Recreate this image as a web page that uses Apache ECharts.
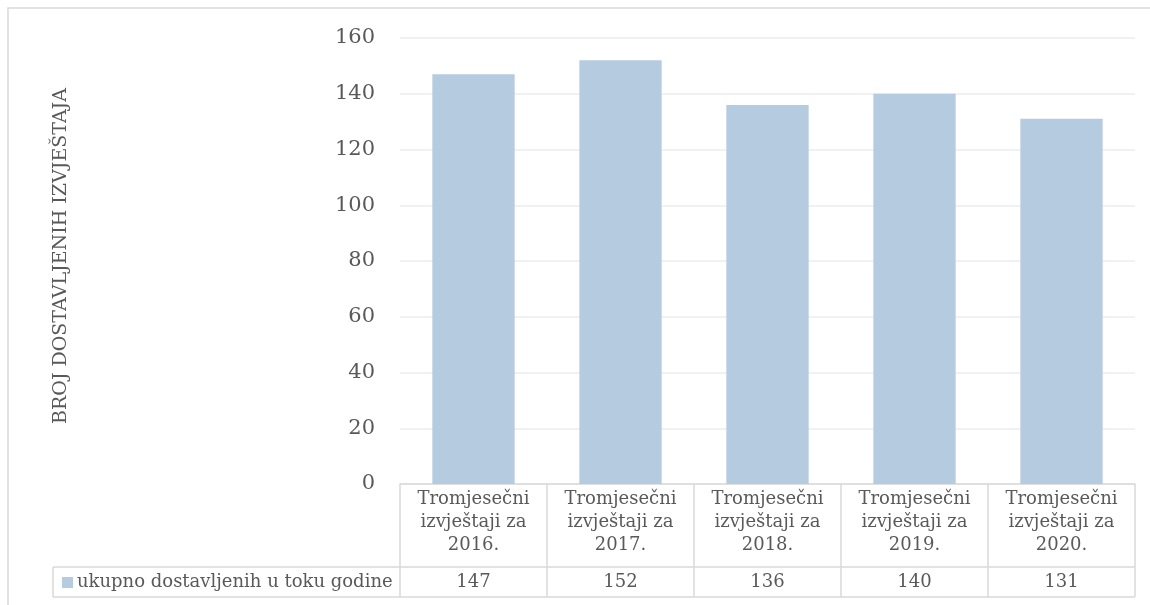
<!DOCTYPE html>
<html>
<head>
<meta charset="utf-8">
<script src="https://cdn.jsdelivr.net/npm/echarts@6/dist/echarts.min.js"></script>
<style>
  html, body { margin: 0; padding: 0; background: #fff; }
  #main { width: 1150px; height: 605px; }
</style>
</head>
<body>
<div id="main"></div>
<script>
  // podaci
  const categories = ['Tromjesečni izvještaji za 2016.', 'Tromjesečni izvještaji za 2017.', 'Tromjesečni izvještaji za 2018.', 'Tromjesečni izvještaji za 2019.', 'Tromjesečni izvještaji za 2020.'];
  const seriesName = 'ukupno dostavljenih u toku godine';
  const values = [147, 152, 136, 140, 131];
  const yTicks = [0, 20, 40, 60, 80, 100, 120, 140, 160];
  const yTitle = 'BROJ DOSTAVLJENIH IZVJEŠTAJA';

  const font = 'DejaVu Serif';
  const txt = '#595959';
  const line = '#d9d9d9';
  const barColor = '#b4cbe0';

  let myChart = echarts.init(document.getElementById('main'));
  myChart.setOption({
    animation: false,
    textStyle: { fontFamily: font },
    grid: { left: 400, right: 15, top: 38, bottom: 121 },
    xAxis: {
      type: 'category',
      data: categories,
      axisLine: { show: true, lineStyle: { color: line, width: 1.5 } },
      axisTick: { show: false },
      axisLabel: {
        color: txt, fontSize: 18, fontFamily: font, lineHeight: 23, margin: 4,
        formatter: function (v) { return v.replace(' izvještaji za ', '\nizvještaji za\n'); }
      }
    },
    yAxis: {
      type: 'value',
      min: yTicks[0], max: yTicks[yTicks.length - 1], interval: 20,
      axisLine: { show: false },
      axisTick: { show: false },
      axisLabel: { color: txt, fontSize: 21, fontFamily: font, margin: 25 },
      splitLine: { lineStyle: { color: '#ececec', width: 1.5 } }
    },
    series: [{
      name: seriesName,
      type: 'bar',
      data: values,
      barWidth: '56%',
      itemStyle: { color: barColor }
    }]
  });

  // tabela podataka ispod grafikona
  const tblTop = 484, tblMid = 567, tblBot = 597, tblLeft = 53;
  const x0 = myChart.convertToPixel({ xAxisIndex: 0 }, 0);
  const x1 = myChart.convertToPixel({ xAxisIndex: 0 }, 1);
  const band = x1 - x0;
  const els = [];
  // okvir
  els.push({ type: 'rect', shape: { x: 8, y: 8, width: 1160, height: 700 }, style: { fill: 'none', stroke: line, lineWidth: 1.5 }, silent: true });
  for (let i = 0; i <= categories.length; i++) {
    const x = x0 - band / 2 + i * band;
    els.push({ type: 'line', shape: { x1: x, y1: tblTop, x2: x, y2: tblBot }, style: { stroke: line, lineWidth: 1.5 } });
  }
  const tblRight = x0 - band / 2 + categories.length * band;
  els.push({ type: 'line', shape: { x1: tblLeft, y1: tblMid, x2: tblRight, y2: tblMid }, style: { stroke: line, lineWidth: 1.5 } });
  els.push({ type: 'line', shape: { x1: tblLeft, y1: tblBot, x2: tblRight, y2: tblBot }, style: { stroke: line, lineWidth: 1.5 } });
  els.push({ type: 'line', shape: { x1: tblLeft, y1: tblMid, x2: tblLeft, y2: tblBot }, style: { stroke: line, lineWidth: 1.5 } });
  els.push({ type: 'rect', shape: { x: 62, y: 577, width: 11, height: 11 }, style: { fill: barColor } });
  els.push({ type: 'text', x: 77, y: 582, style: { text: seriesName, font: '18px "' + font + '"', fill: txt, textVerticalAlign: 'middle' } });
  values.forEach(function (v, i) {
    els.push({ type: 'text', x: myChart.convertToPixel({ xAxisIndex: 0 }, i), y: 582,
      style: { text: String(v), font: '18px "' + font + '"', fill: txt, textAlign: 'center', textVerticalAlign: 'middle' } });
  });
  // naslov y ose
  els.push({ type: 'text', x: 61, y: 256, rotation: Math.PI / 2,
    style: { text: yTitle, font: '19px "' + font + '"', fill: txt, textAlign: 'center', textVerticalAlign: 'middle' } });
  myChart.setOption({ graphic: { elements: els } });
</script>
</body>
</html>
